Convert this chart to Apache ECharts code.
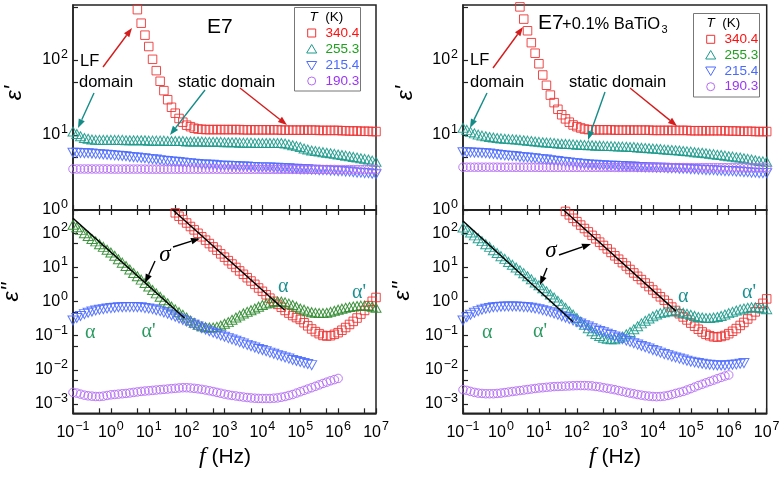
<!DOCTYPE html>
<html><head><meta charset="utf-8">
<script src="https://cdn.jsdelivr.net/npm/echarts@6/dist/echarts.min.js"></script>
<style>html,body{margin:0;padding:0;background:#fff}#c{width:783px;height:480px}</style>
</head><body><div id="c"></div>
<script>
const _ = null;
// frequency grid (Hz), 10 points per decade
const freqHz = [
 0.1,0.126,0.158,0.2,0.251,0.316,0.398,0.501,0.631,0.794,
 1,1.26,1.58,2,2.51,3.16,3.98,5.01,6.31,7.94,
 10,12.6,15.8,20,25.1,31.6,39.8,50.1,63.1,79.4,
 100,126,158,200,251,316,398,501,631,794,
 1e3,1.26e3,1.58e3,2e3,2.51e3,3.16e3,3.98e3,5.01e3,6.31e3,7.94e3,
 1e4,1.26e4,1.58e4,2e4,2.51e4,3.16e4,3.98e4,5.01e4,6.31e4,7.94e4,
 1e5,1.26e5,1.58e5,2e5,2.51e5,3.16e5,3.98e5,5.01e5,6.31e5,7.94e5,
 1e6,1.26e6,1.58e6,2e6,2.51e6,3.16e6,3.98e6,5.01e6,6.31e6,7.94e6,
 1e7];
const temps = ['340.4','255.3','215.4','190.3'];

// ---- E7, eps' ----
const epsP_E7_340 = [
 _,_,_,_,_,_,_,_,_,_,
 _,_,_,_,_,_,_,468,309,214,
 151,102,72,52,39,29.5,23.4,19.5,16.6,14.8,
 13.5,12.9,12.3,12.0,11.9,11.8,11.8,11.8,11.8,11.8,
 11.8,11.8,11.8,11.8,11.8,11.7,11.7,11.7,11.7,11.7,
 11.7,11.7,11.7,11.7,11.7,11.6,11.6,11.6,11.6,11.6,
 11.6,11.6,11.6,11.6,11.6,11.5,11.5,11.5,11.5,11.5,
 11.5,11.4,11.4,11.3,11.3,11.3,11.2,11.2,11.2,11.1,
 11.1];
const epsP_E7_255 = [
 11.1,10.3,9.6,9.1,8.9,8.7,8.6,8.6,8.6,8.6,
 8.6,8.6,8.6,8.6,8.5,8.5,8.5,8.5,8.5,8.5,
 8.4,8.4,8.4,8.4,8.4,8.3,8.3,8.3,8.3,8.3,
 8.2,8.2,8.2,8.2,8.2,8.1,8.1,8.1,8.1,8.1,
 8.0,8.0,8.0,8.0,7.9,7.9,7.9,7.9,7.8,7.8,
 7.8,7.8,7.8,7.8,7.8,7.8,7.7,7.5,7.3,7.1,
 6.9,6.6,6.4,6.2,6.1,6.0,5.9,5.8,5.7,5.6,
 5.5,5.4,5.3,5.2,5.1,5.0,4.9,4.8,4.7,4.55,
 4.4];
const epsP_E7_215 = [
 5.8,5.8,5.75,5.7,5.7,5.65,5.6,5.55,5.5,5.45,
 5.4,5.35,5.3,5.25,5.2,5.1,5.05,5.0,4.95,4.9,
 4.8,4.75,4.7,4.6,4.55,4.5,4.45,4.4,4.35,4.3,
 4.25,4.2,4.15,4.1,4.05,4.05,4.0,4.0,3.95,3.9,
 3.9,3.9,3.85,3.85,3.8,3.8,3.8,3.75,3.75,3.7,
 3.7,3.7,3.7,3.65,3.65,3.6,3.6,3.6,3.55,3.55,
 3.5,3.5,3.5,3.45,3.45,3.4,3.4,3.4,3.35,3.35,
 3.3,3.3,3.25,3.25,3.2,3.15,3.15,3.1,3.1,3.05,
 3.0];
const epsP_E7_190 = [
 3.52,3.52,3.52,3.52,3.52,3.52,3.52,3.52,3.52,3.52,
 3.51,3.51,3.51,3.51,3.51,3.51,3.51,3.51,3.51,3.51,
 3.5,3.5,3.5,3.5,3.5,3.5,3.5,3.5,3.5,3.5,
 3.5,3.5,3.5,3.5,3.5,3.5,3.5,3.5,3.5,3.5,
 3.49,3.49,3.49,3.49,3.49,3.49,3.49,3.49,3.49,3.49,
 3.48,3.48,3.48,3.48,3.48,3.48,3.48,3.48,3.48,3.48,
 3.47,3.47,3.47,3.47,3.47,3.47,3.47,3.47,3.47,3.47,
 3.46,3.46,3.46,3.46,3.46,3.46,3.46,3.46,3.46,3.46,
 3.45];

// ---- E7 + 0.1% BaTiO3, eps' ----
const epsP_BT_340 = [
 _,_,_,_,_,_,_,_,_,_,
 _,_,_,_,_,510,350,245,170,123,
 89,63,46,34,27,22,18.6,16.4,14.8,13.6,
 12.9,12.4,12.0,11.8,11.7,11.7,11.7,11.7,11.7,11.7,
 11.6,11.6,11.6,11.6,11.6,11.6,11.6,11.6,11.6,11.6,
 11.5,11.5,11.5,11.5,11.5,11.5,11.5,11.5,11.5,11.5,
 11.4,11.4,11.4,11.4,11.4,11.4,11.4,11.4,11.4,11.4,
 11.3,11.3,11.3,11.2,11.2,11.2,11.2,11.1,11.1,11.1,
 11.1];
const epsP_BT_255 = [
 12.5,11.7,11.0,10.5,10.1,9.8,9.6,9.4,9.25,9.1,
 9.0,8.9,8.8,8.75,8.7,8.6,8.5,8.4,8.3,8.2,
 8.1,8.0,7.95,7.9,7.8,7.7,7.65,7.6,7.55,7.5,
 7.4,7.4,7.35,7.3,7.3,7.2,7.2,7.15,7.1,7.1,
 7.05,7.0,7.0,6.95,6.9,6.9,6.8,6.75,6.7,6.65,
 6.6,6.55,6.5,6.4,6.35,6.3,6.25,6.2,6.1,6.05,
 6.0,5.9,5.85,5.8,5.7,5.6,5.55,5.45,5.4,5.3,
 5.2,5.15,5.05,5.0,4.9,4.8,4.7,4.6,4.5,4.45,
 4.4];
const epsP_BT_215 = [
 5.9,5.9,5.85,5.8,5.8,5.75,5.7,5.65,5.6,5.5,
 5.4,5.35,5.3,5.25,5.2,5.1,5.05,5.0,4.95,4.9,
 4.8,4.75,4.7,4.6,4.55,4.5,4.4,4.35,4.3,4.25,
 4.2,4.15,4.1,4.05,4.0,4.0,3.95,3.95,3.9,3.9,
 3.9,3.85,3.85,3.8,3.8,3.8,3.75,3.75,3.7,3.7,
 3.7,3.65,3.65,3.65,3.6,3.6,3.6,3.55,3.55,3.55,
 3.5,3.5,3.45,3.45,3.4,3.4,3.4,3.35,3.35,3.3,
 3.3,3.3,3.25,3.25,3.2,3.2,3.15,3.15,3.1,3.1,
 3.1];
const epsP_BT_190 = [
 3.72,3.72,3.72,3.72,3.72,3.72,3.72,3.72,3.72,3.72,
 3.71,3.71,3.71,3.71,3.71,3.71,3.71,3.71,3.71,3.71,
 3.7,3.7,3.7,3.7,3.7,3.7,3.7,3.7,3.7,3.7,
 3.7,3.7,3.7,3.7,3.7,3.7,3.7,3.7,3.7,3.7,
 3.69,3.69,3.69,3.69,3.69,3.69,3.69,3.69,3.69,3.69,
 3.68,3.68,3.68,3.68,3.68,3.68,3.68,3.68,3.68,3.68,
 3.67,3.67,3.67,3.67,3.67,3.67,3.67,3.67,3.67,3.67,
 3.66,3.66,3.66,3.66,3.66,3.66,3.66,3.66,3.66,3.66,
 3.65];

// ---- E7, eps'' ----
const epsPP_E7_340 = [
 _,_,_,_,_,_,_,_,_,_,
 _,_,_,_,_,_,_,_,_,_,
 _,_,_,_,_,_,_,398,316,251,
 200,158,126,100,79,63,50,40,32,25,
 20,15.8,12.6,10,7.9,6.3,5.0,4.0,3.2,2.5,
 2.0,1.58,1.26,1.02,0.83,0.68,0.55,0.46,0.39,0.34,
 0.30,0.24,0.195,0.158,0.132,0.115,0.102,0.098,0.1,0.11,
 0.123,0.145,0.174,0.214,0.263,0.33,0.43,0.55,0.76,1.02,
 1.32];
const epsPP_E7_255 = [
 178,151,126,100,83,68,58,48,40,33,
 27.5,21.9,17.4,13.8,11.0,8.7,6.9,5.5,4.4,3.5,
 2.75,2.19,1.74,1.38,1.10,0.89,0.72,0.59,0.49,0.41,
 0.34,0.28,0.24,0.21,0.19,0.178,0.174,0.174,0.182,0.2,
 0.224,0.25,0.295,0.34,0.39,0.45,0.5,0.56,0.63,0.71,
 0.79,0.87,0.93,0.98,1.0,1.0,0.95,0.87,0.79,0.71,
 0.63,0.58,0.52,0.49,0.47,0.46,0.46,0.47,0.5,0.54,
 0.58,0.62,0.66,0.69,0.72,0.74,0.76,0.76,0.74,0.71,
 0.66];
const epsPP_E7_215 = [
 0.28,0.33,0.38,0.43,0.47,0.51,0.55,0.575,0.6,0.63,
 0.645,0.66,0.68,0.685,0.69,0.69,0.69,0.685,0.68,0.645,
 0.63,0.6,0.56,0.525,0.48,0.44,0.4,0.36,0.32,0.29,
 0.26,0.234,0.209,0.186,0.166,0.151,0.135,0.123,0.112,0.102,
 0.093,0.085,0.078,0.071,0.065,0.059,0.054,0.049,0.045,0.041,
 0.038,0.035,0.032,0.0295,0.027,0.025,0.023,0.0214,0.0195,0.0182,
 0.017,0.0158,0.0148,0.0138,_,_,_,_,_,_,
 _,_,_,_,_,_,_,_,_,_,
 _];
const epsPP_E7_190 = [
 2.19e-3,2.09e-3,1.95e-3,1.82e-3,1.74e-3,1.70e-3,1.66e-3,1.66e-3,1.70e-3,1.78e-3,
 1.86e-3,1.90e-3,1.95e-3,2.00e-3,2.04e-3,2.11e-3,2.19e-3,2.26e-3,2.34e-3,2.40e-3,
 2.45e-3,2.51e-3,2.57e-3,2.63e-3,2.69e-3,2.75e-3,2.82e-3,2.88e-3,2.95e-3,3.00e-3,
 3.00e-3,2.95e-3,2.88e-3,2.79e-3,2.69e-3,2.57e-3,2.45e-3,2.32e-3,2.19e-3,2.07e-3,
 1.95e-3,1.86e-3,1.78e-3,1.72e-3,1.66e-3,1.60e-3,1.55e-3,1.51e-3,1.48e-3,1.46e-3,
 1.45e-3,1.45e-3,1.45e-3,1.48e-3,1.51e-3,1.58e-3,1.66e-3,1.78e-3,1.90e-3,2.09e-3,
 2.29e-3,2.51e-3,2.75e-3,3.00e-3,3.31e-3,3.63e-3,4.00e-3,4.37e-3,4.79e-3,5.19e-3,
 5.62e-3,_,_,_,_,_,_,_,_,_,
 _];

// ---- E7 + 0.1% BaTiO3, eps'' ----
const epsPP_BT_340 = [
 _,_,_,_,_,_,_,_,_,_,
 _,_,_,_,_,_,_,_,_,_,
 _,_,_,_,_,_,_,437,347,275,
 219,174,138,110,87,69,55,44,35,27.5,
 21.9,17.4,13.8,11,8.7,6.9,5.5,4.4,3.5,2.75,
 2.19,1.74,1.38,1.1,0.87,0.69,0.55,0.44,0.355,0.29,
 0.234,0.19,0.155,0.129,0.11,0.1,0.093,0.091,0.095,0.102,
 0.115,0.135,0.162,0.2,0.245,0.31,0.39,0.5,0.66,0.89,
 1.2];
const epsPP_BT_255 = [
 148,126,105,87,72,59,48,40,32,26.3,
 21.4,17.8,14.5,12.0,10.0,8.3,6.8,5.5,4.5,3.6,
 3.0,2.45,2.0,1.62,1.32,1.05,0.83,0.66,0.52,0.42,
 0.33,0.26,0.21,0.166,0.135,0.112,0.098,0.087,0.081,0.079,
 0.079,0.085,0.095,0.11,0.129,0.155,0.19,0.23,0.275,0.32,
 0.37,0.42,0.46,0.49,0.51,0.525,0.525,0.5,0.47,0.44,
 0.41,0.38,0.355,0.34,0.33,0.33,0.34,0.355,0.38,0.42,
 0.46,0.5,0.55,0.59,0.63,0.66,0.68,0.68,0.66,0.63,
 0.6];
const epsPP_BT_215 = [
 0.28,0.35,0.41,0.47,0.525,0.575,0.62,0.645,0.68,0.69,
 0.71,0.72,0.72,0.72,0.72,0.71,0.69,0.68,0.66,0.63,
 0.6,0.56,0.525,0.49,0.45,0.41,0.37,0.34,0.31,0.28,
 0.25,0.229,0.204,0.186,0.166,0.151,0.138,0.126,0.115,0.105,
 0.095,0.087,0.079,0.072,0.066,0.06,0.055,0.05,0.046,0.042,
 0.038,0.035,0.032,0.029,0.027,0.0245,0.023,0.0214,0.02,0.0186,
 0.0174,0.0166,0.0158,0.0151,0.0145,0.0141,0.0138,0.0135,0.0135,0.0135,
 0.0138,0.0141,0.0145,0.0151,0.0158,_,_,_,_,_,
 _];
const epsPP_BT_190 = [
 2.63e-3,2.51e-3,2.34e-3,2.19e-3,2.09e-3,2.04e-3,2.00e-3,2.00e-3,2.00e-3,2.04e-3,
 2.09e-3,2.16e-3,2.24e-3,2.32e-3,2.40e-3,2.48e-3,2.57e-3,2.66e-3,2.75e-3,2.85e-3,
 2.95e-3,3.00e-3,3.09e-3,3.16e-3,3.24e-3,3.27e-3,3.31e-3,3.35e-3,3.39e-3,3.43e-3,
 3.47e-3,3.47e-3,3.47e-3,3.43e-3,3.39e-3,3.27e-3,3.16e-3,3.00e-3,2.88e-3,2.75e-3,
 2.63e-3,2.48e-3,2.34e-3,2.21e-3,2.09e-3,2.00e-3,1.90e-3,1.82e-3,1.74e-3,1.70e-3,
 1.66e-3,1.64e-3,1.66e-3,1.70e-3,1.78e-3,1.90e-3,2.04e-3,2.19e-3,2.34e-3,2.57e-3,
 2.82e-3,3.13e-3,3.47e-3,3.80e-3,4.17e-3,4.57e-3,5.01e-3,5.50e-3,6.03e-3,6.60e-3,
 7.08e-3,_,_,_,_,_,_,_,_,_,
 _];

// conductivity (sigma) fit lines: [f, eps'']
const fitE7_255 = [[0.1, 275], [89, 0.324]];
const fitE7_340 = [[43.6, 479], [38500, 0.566]];
const fitBT_255 = [[0.1, 229], [79, 0.257]];
const fitBT_340 = [[44.7, 479], [40700, 0.525]];

// axis ticks and labels
const tickX = [0.1,0.5,1,5,10,50,100,500,1e3,5e3,1e4,5e4,1e5,5e5,1e6,5e6,1e7];
const labX = [0.1,1,10,100,1e3,1e4,1e5,1e6,1e7];
const tickYTop = [1,5,10,50,100,500];
const labYTop = [1,10,100];
const tickYBot = [0.001,0.005,0.01,0.05,0.1,0.5,1,5,10,50,100];
const labYBot = [0.001,0.01,0.1,1,10,100];

const FONT = '"Liberation Sans", Arial, sans-serif';
const SERIF = '"Liberation Serif", "Times New Roman", serif';
const C = {red:'#ee3434', teal:'#1b9a8c', green:'#2e8a2e', blue:'#4d6bff', purple:'#b46cf5'};

function powLabel(v){ const e = Math.round(Math.log10(v)); return '{b|10}{s|' + (e < 0 ? '\u2212' + (-e) : e) + '}'; }
const rich = {
  b: { fontSize: 16, lineHeight: 24, fontFamily: FONT, color: '#000' },
  s: { fontSize: 12.5, lineHeight: 13, verticalAlign: 'top', fontFamily: FONT, color: '#000', padding: [0,0,0,1] }
};

function xAx(grid, pos, showLabel){
  return { type:'log', logBase:10, gridIndex:grid, position:pos, min:0.1, max:1e7,
    axisLine:{show:true, onZero:false, lineStyle:{color:'#222', width:1.5}},
    axisTick:{show:true, inside:true, length:5, customValues:tickX, lineStyle:{color:'#222', width:1.2}},
    minorTick:{show:false}, splitLine:{show:false},
    axisLabel:{show:showLabel, customValues:labX, formatter:powLabel, rich:rich, fontSize:16, fontFamily:FONT, color:'#000', margin:7}
  };
}
function yAx(grid, mn, mx, ticks, labs){
  return { type:'log', logBase:10, gridIndex:grid, min:mn, max:mx,
    axisLine:{show:true, onZero:false, lineStyle:{color:'#222', width:1.5}},
    axisTick:{show:true, inside:true, length:5, customValues:ticks, lineStyle:{color:'#222', width:1.2}},
    minorTick:{show:false}, splitLine:{show:false},
    axisLabel:{show:true, customValues:labs, formatter:powLabel, rich:rich, fontSize:16, fontFamily:FONT, color:'#000', margin:5}
  };
}
function pairs(vals){ const out = []; freqHz.forEach((f,i)=>{ if (vals[i] != null) out.push([f, vals[i]]); }); return out; }
function sc(name, xi, yi, vals, symbol, color, rot){
  const size = symbol === 'triangle' ? [10,9] : 8.5;
  return { type:'scatter', name, xAxisIndex:xi, yAxisIndex:yi, data:pairs(vals), symbol, symbolSize:size,
    symbolRotate: rot || 0, clip:true, silent:true,
    itemStyle:{color:'rgba(255,255,255,0)', borderColor:color, borderWidth:1, opacity:0.9}, z:2 };
}
function fit(xi, yi, d){
  return { type:'line', xAxisIndex:xi, yAxisIndex:yi, data:d, showSymbol:false, symbol:'none', silent:true, clip:true,
    lineStyle:{color:'#000', width:1.5}, z:5 };
}

const series = [
  sc(temps[0],0,0,epsP_E7_340,'rect',C.red),
  sc(temps[1],0,0,epsP_E7_255,'triangle',C.teal),
  sc(temps[2],0,0,epsP_E7_215,'triangle',C.blue,180),
  sc(temps[3],0,0,epsP_E7_190,'circle',C.purple),
  sc(temps[0],1,1,epsPP_E7_340,'rect',C.red),
  sc(temps[1],1,1,epsPP_E7_255,'triangle',C.green),
  sc(temps[2],1,1,epsPP_E7_215,'triangle',C.blue,180),
  sc(temps[3],1,1,epsPP_E7_190,'circle',C.purple),
  sc(temps[0],3,2,epsP_BT_340,'rect',C.red),
  sc(temps[1],3,2,epsP_BT_255,'triangle',C.teal),
  sc(temps[2],3,2,epsP_BT_215,'triangle',C.blue,180),
  sc(temps[3],3,2,epsP_BT_190,'circle',C.purple),
  sc(temps[0],4,3,epsPP_BT_340,'rect',C.red),
  sc(temps[1],4,3,epsPP_BT_255,'triangle',C.teal),
  sc(temps[2],4,3,epsPP_BT_215,'triangle',C.blue,180),
  sc(temps[3],4,3,epsPP_BT_190,'circle',C.purple),
  fit(1,1,fitE7_255), fit(1,1,fitE7_340), fit(4,3,fitBT_255), fit(4,3,fitBT_340)
];

// ---------- annotations ----------
const G = [];
function txt(x, y, text, st, extra){
  G.push(Object.assign({type:'text', x, y, z:50, silent:true,
    style:Object.assign({text, fill:'#000', fontFamily:FONT, fontSize:16.5, align:'left', verticalAlign:'middle'}, st||{})}, extra||{}));
}
function arrow(x1,y1,x2,y2,color){
  const a = Math.atan2(y2-y1, x2-x1), L = 9, W = 3.3;
  const bx = x2 - L*Math.cos(a), by = y2 - L*Math.sin(a);
  G.push({type:'line', z:50, silent:true, shape:{x1, y1, x2:bx, y2:by}, style:{stroke:color, lineWidth:1.4}});
  G.push({type:'polygon', z:50, silent:true, shape:{points:[[x2,y2],[bx+W*Math.sin(a), by-W*Math.cos(a)],[bx-W*Math.sin(a), by+W*Math.cos(a)]]}, style:{fill:color}});
}
const RED_A = '#d41c1c', TEAL_A = '#138c88';
const legendTextCol = ['#ff1010', '#1fa01f', '#4a6aff', '#9a35f5'];
const legendSymCol = [C.red, C.teal, C.blue, C.purple];
function legend(bx, by, bw, bh, tx, ty, symX, txtX, rowsY){
  G.push({type:'rect', z:50, silent:true, shape:{x:bx, y:by, width:bw, height:bh}, style:{fill:'#fff', stroke:'#777', lineWidth:1}});
  txt(tx, ty, '{t|T}  (K)', {fontSize:13.5, rich:{t:{fontStyle:'italic', fontSize:13.5, fontFamily:FONT}}});
  rowsY.forEach((y, k)=>{
    const col = legendSymCol[k];
    if (k === 0) G.push({type:'rect', z:51, silent:true, shape:{x:symX-4, y:y-4, width:8, height:8}, style:{fill:'none', stroke:col, lineWidth:1}});
    if (k === 1) G.push({type:'polygon', z:51, silent:true, shape:{points:[[symX,y-4.5],[symX+5,y+4],[symX-5,y+4]]}, style:{fill:'none', stroke:col, lineWidth:1}});
    if (k === 2) G.push({type:'polygon', z:51, silent:true, shape:{points:[[symX,y+4.5],[symX+5,y-4],[symX-5,y-4]]}, style:{fill:'none', stroke:col, lineWidth:1}});
    if (k === 3) G.push({type:'circle', z:51, silent:true, shape:{cx:symX, cy:y, r:4}, style:{fill:'none', stroke:col, lineWidth:1}});
    txt(txtX, y, temps[k], {fontSize:13.5, fill:legendTextCol[k]});
  });
}
legend(294.5, 7.5, 66, 83.5, 309.5, 17, 311.7, 325.5, [33, 49, 65.5, 81]);
legend(693.5, 13.5, 66, 83.5, 706.5, 23.5, 710.7, 724.5, [39.3, 55, 71, 86.7]);

// titles
txt(207, 26.8, 'E7', {fontSize:21});
txt(538, 23.5, 'E7', {fontSize:21});
txt(562, 24, '+0.1% BaTiO', {fontSize:16.5});
txt(661.5, 30, '3', {fontSize:11});

// axis titles
const epsStyle = {fontSize:23, fontStyle:'italic', fontFamily:FONT, align:'center'};
txt(0, 0, "\u03b5'", epsStyle, {x:15, y:93, rotation:Math.PI/2});
txt(0, 0, "\u03b5''", epsStyle, {x:12, y:292, rotation:Math.PI/2});
txt(0, 0, "\u03b5'", epsStyle, {x:406, y:93, rotation:Math.PI/2});
txt(0, 0, "\u03b5''", epsStyle, {x:403, y:291, rotation:Math.PI/2});
const fStyle = {fontSize:21, align:'center', rich:{f:{fontFamily:SERIF, fontStyle:'italic', fontSize:24}}};
txt(225, 457, '{f|f} (Hz)', fStyle);
txt(615, 457, '{f|f} (Hz)', fStyle);

// top panel annotations
txt(80, 61.5, 'LF'); txt(79, 82, 'domain'); txt(178, 82, 'static domain');
txt(470, 60, 'LF'); txt(470, 82, 'domain'); txt(569, 82, 'static domain');
arrow(103, 67, 132, 28, RED_A); arrow(94, 93, 78, 128, TEAL_A);
arrow(205, 90, 170, 135, TEAL_A); arrow(240, 88, 287, 125, RED_A);
arrow(493, 68, 523, 27, RED_A); arrow(487, 93, 470, 128, TEAL_A);
arrow(605, 92, 588, 140, TEAL_A); arrow(630, 88, 677, 126, RED_A);

// bottom panel annotations
const sig = {fontFamily:SERIF, fontStyle:'italic', fontSize:23, align:'center'};
txt(165, 255, '\u03c3', sig); txt(551, 251, '\u03c3', sig);
arrow(173, 247, 200, 238.5, '#000'); arrow(155, 261, 145, 283, '#000');
arrow(559, 255, 591, 244, '#000'); arrow(547, 268, 540, 285, '#000');
const alG = {fontFamily:SERIF, fontSize:20, fill:'#2a9a60'};
const alT = {fontFamily:SERIF, fontSize:20, fill:'#1b9090'};
txt(85, 332.5, '\u03b1', alG); txt(141.5, 332, "\u03b1'", alG);
txt(278, 287, '\u03b1', alT); txt(352, 293, "\u03b1'", alT);
txt(482, 332.5, '\u03b1', alG); txt(533, 332, "\u03b1'", alG);
txt(678, 297, '\u03b1', alT); txt(742, 293, "\u03b1'", alT);

const option = {
  animation:false,
  backgroundColor:'#fff',
  grid:[
    {left:73, top:5, width:303, height:205, show:true, borderColor:'#222', borderWidth:1.5, backgroundColor:'transparent'},
    {left:73, top:210, width:303, height:203.3, show:true, borderColor:'#222', borderWidth:1.5, backgroundColor:'transparent'},
    {left:463, top:5, width:303.7, height:205, show:true, borderColor:'#222', borderWidth:1.5, backgroundColor:'transparent'},
    {left:463, top:210, width:303.7, height:203.3, show:true, borderColor:'#222', borderWidth:1.5, backgroundColor:'transparent'}
  ],
  xAxis:[ xAx(0,'bottom',false), xAx(1,'bottom',true), xAx(1,'top',false), xAx(2,'bottom',false), xAx(3,'bottom',true), xAx(3,'top',false) ],
  yAxis:[ yAx(0,1,540,tickYTop,labYTop), yAx(1,0.000535,481,tickYBot,labYBot), yAx(2,1,540,tickYTop,labYTop), yAx(3,0.000535,481,tickYBot,labYBot) ],
  series,
  graphic:{elements:G}
};
const chart = echarts.init(document.getElementById('c'), null, {renderer:'canvas'});
chart.setOption(option);
</script></body></html>
